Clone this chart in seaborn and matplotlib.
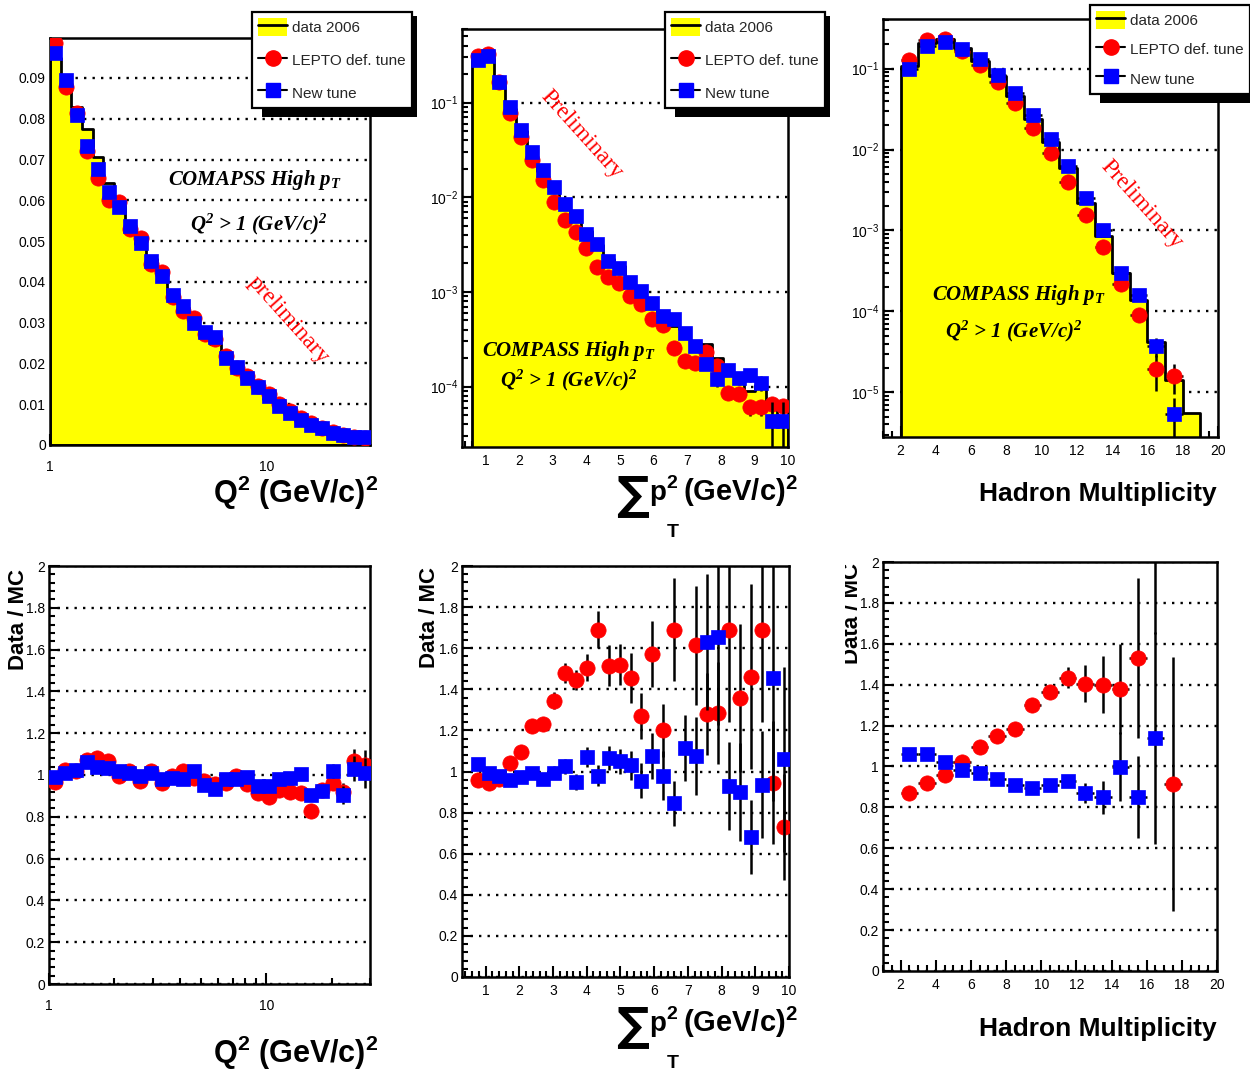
import numpy as np
import matplotlib
matplotlib.use("Agg")
import matplotlib.pyplot as plt
import seaborn as sns
from matplotlib.lines import Line2D
from matplotlib.patches import Patch, Rectangle
from matplotlib.ticker import (MultipleLocator, FixedLocator, FixedFormatter,
                               LogLocator, NullFormatter, FuncFormatter)

# ------------------------------------------------------------------ data
legend_labels = ["data 2006", "LEPTO def. tune", "New tune"]

# Q^2 distribution : 30 logarithmic bins between 1 and 30 (GeV/c)^2
q2_low, q2_high, q2_nbins = 1.0, 30.0, 30
q2_data = [0.0950, 0.0900, 0.0830, 0.0774, 0.0705, 0.0642, 0.0595, 0.0543, 0.0493, 0.0455,
           0.0407, 0.0362, 0.0335, 0.0306, 0.0264, 0.0247, 0.0209, 0.0188, 0.0162, 0.0133,
           0.0112, 0.0094, 0.0077, 0.0061, 0.0044, 0.0038, 0.0030, 0.0023, 0.0021, 0.0019]
q2_lepto = [0.0985, 0.0878, 0.0814, 0.0722, 0.0654, 0.0600, 0.0596, 0.0530, 0.0507, 0.0443,
            0.0424, 0.0364, 0.0328, 0.0311, 0.0272, 0.0259, 0.0218, 0.0189, 0.0170, 0.0145,
            0.0125, 0.0101, 0.0084, 0.0067, 0.0053, 0.0041, 0.0031, 0.0025, 0.0020, 0.0018]
q2_new = [0.0961, 0.0896, 0.0810, 0.0732, 0.0678, 0.0620, 0.0583, 0.0538, 0.0495, 0.0450,
          0.0415, 0.0368, 0.0342, 0.0300, 0.0278, 0.0264, 0.0213, 0.0192, 0.0164, 0.0141,
          0.0119, 0.0096, 0.0078, 0.0061, 0.0049, 0.0041, 0.0029, 0.0025, 0.0020, 0.0019]
q2_ratio_lepto = [0.965, 1.025, 1.02, 1.07, 1.08, 1.065, 0.995, 1.02, 0.97, 1.02,
                  0.96, 0.995, 1.02, 0.985, 0.97, 0.955, 0.96, 0.995, 0.955, 0.915,
                  0.895, 0.93, 0.92, 0.915, 0.83, 0.93, 0.96, 0.92, 1.065, 1.05]
q2_ratio_new = [0.99, 1.01, 1.025, 1.06, 1.04, 1.035, 1.02, 1.01, 0.995, 1.01,
                0.98, 0.985, 0.98, 1.02, 0.95, 0.935, 0.98, 0.98, 0.99, 0.945,
                0.945, 0.98, 0.985, 1.005, 0.905, 0.925, 1.02, 0.905, 1.03, 1.01]
q2_ratio_err = [0.004, 0.004, 0.004, 0.005, 0.005, 0.005, 0.005, 0.006, 0.006, 0.006,
                0.007, 0.007, 0.008, 0.008, 0.009, 0.010, 0.011, 0.012, 0.013, 0.014,
                0.015, 0.017, 0.019, 0.021, 0.024, 0.028, 0.034, 0.042, 0.060, 0.070]

# Sum pT^2 distribution : 29 bins between 0.6 and 10 (GeV/c)^2
pt_low, pt_high, pt_nbins = 0.6, 10.0, 29
pt_data = [0.293, 0.308, 0.161, 0.0854, 0.0497, 0.0299, 0.0189, 0.0128, 0.0087, 0.0061,
           0.0044, 0.0031, 0.00224, 0.00187, 0.00132, 0.00098, 0.00082, 0.00055, 0.00044, 0.00041,
           0.00029, 0.000284, 0.000199, 0.00014, 0.000111, 0.000089, 0.000103, 0.000063, 0.000046]
pt_lepto = [0.31, 0.33, 0.165, 0.077, 0.043, 0.0246, 0.0151, 0.0089, 0.0058, 0.0043,
            0.0029, 0.00183, 0.00144, 0.00123, 0.00090, 0.00075, 0.00052, 0.00045, 0.000258, 0.000187,
            0.000179, 0.00023, 0.000165, 0.000085, 0.000084, 0.000061, 0.000061, 0.000065, 0.000062]
pt_lepto_err = [0, 0, 0, 0, 0, 0, 0, 0, 0, 0, 0, 0, 0, 0, 0, 0, 0, 0, 0, 0,
                0, 0, 0, 1.2e-5, 1.2e-5, 1.2e-5, 1.2e-5, 1.2e-5, 1.2e-5]
pt_new = [0.283, 0.31, 0.164, 0.089, 0.051, 0.030, 0.0196, 0.0129, 0.0085, 0.0064,
          0.0041, 0.0032, 0.0021, 0.00178, 0.00128, 0.00103, 0.00076, 0.00056, 0.00052, 0.00037,
          0.00027, 0.000174, 0.00012, 0.00015, 0.000123, 0.000131, 0.00011, 0.000043, 0.000043]
pt_new_err = [0, 0, 0, 0, 0, 0, 0, 0, 0, 0, 0, 0, 0, 0, 0, 0, 0, 0, 0, 0,
              0, 2e-5, 2e-5, 2e-5, 2e-5, 2e-5, 2e-5, 2.5e-5, 2.5e-5]
pt_ratio_lepto = [0.96, 0.945, 0.965, 1.04, 1.095, 1.22, 1.23, 1.345, 1.48, 1.445,
                  1.505, 1.69, 1.515, 1.52, 1.455, 1.27, 1.57, 1.20, 1.69, 2.2,
                  1.615, 1.28, 1.285, 1.69, 1.36, 1.46, 1.69, 0.945, 0.73]
pt_ratio_lepto_err = [0.02, 0.02, 0.02, 0.025, 0.03, 0.03, 0.035, 0.04, 0.05, 0.05,
                      0.065, 0.09, 0.10, 0.10, 0.12, 0.11, 0.16, 0.13, 0.25, 0.15,
                      0.29, 0.20, 0.25, 0.45, 0.36, 0.45, 0.45, 0.30, 0.26]
pt_ratio_new = [1.035, 0.995, 0.98, 0.96, 0.975, 0.995, 0.965, 0.995, 1.025, 0.95,
                1.07, 0.98, 1.065, 1.05, 1.03, 0.955, 1.075, 0.98, 0.845, 1.115,
                1.075, 1.63, 1.655, 0.93, 0.90, 0.68, 0.935, 1.455, 1.06]
pt_ratio_new_err = [0.01, 0.01, 0.015, 0.015, 0.02, 0.02, 0.025, 0.03, 0.035, 0.04,
                    0.05, 0.05, 0.06, 0.06, 0.07, 0.085, 0.11, 0.12, 0.11, 0.16,
                    0.19, 0.33, 0.43, 0.215, 0.24, 0.18, 0.26, 0.60, 0.45]

# Hadron multiplicity : unit bins from 2 to 19
mult_edges = [2, 3, 4, 5, 6, 7, 8, 9, 10, 11, 12, 13, 14, 15, 16, 17, 18, 19]
mult_data = [0.109, 0.21, 0.23, 0.18, 0.123, 0.080, 0.046, 0.024, 0.0123, 0.0059,
             0.0022, 0.00086, 0.00030, 0.00014, 4.2e-5, 1.4e-5, 5.5e-6]
mult_lepto = [0.127, 0.224, 0.233, 0.167, 0.112, 0.068, 0.0376, 0.0185, 0.0091, 0.0040,
              0.00156, 6.2e-4, 2.2e-4, 9.1e-5, 1.95e-5, 1.6e-5, np.nan]
mult_lepto_err = [0, 0, 0, 0, 0, 0, 0, 0, 0, 0, 0, 0, 0, 0, 9e-6, 6.5e-6, np.nan]
mult_new = [0.100, 0.189, 0.212, 0.175, 0.132, 0.084, 0.050, 0.027, 0.0134, 0.0062,
            0.0025, 1.02e-3, 3.0e-4, 1.6e-4, 3.7e-5, 5.4e-6, np.nan]
mult_new_err = [0, 0, 0, 0, 0, 0, 0, 0, 0, 0, 0, 0, 0, 0, 1e-5, 3e-6, np.nan]
mult_ratio_lepto = [0.87, 0.92, 0.96, 1.02, 1.095, 1.15, 1.185, 1.30, 1.365, 1.435,
                    1.405, 1.40, 1.38, 1.53, 2.15, 0.915, np.nan]
mult_ratio_lepto_err = [0.01, 0.01, 0.01, 0.015, 0.015, 0.02, 0.02, 0.025, 0.03, 0.05,
                        0.09, 0.14, 0.22, 0.39, 0.50, 0.62, np.nan]
mult_ratio_new = [1.06, 1.06, 1.02, 0.985, 0.97, 0.94, 0.91, 0.895, 0.91, 0.93,
                  0.87, 0.85, 1.00, 0.85, 1.14, 2.6, np.nan]
mult_ratio_new_err = [0.01, 0.01, 0.01, 0.01, 0.015, 0.015, 0.02, 0.02, 0.025, 0.03,
                      0.05, 0.08, 0.17, 0.20, 0.52, 0.55, np.nan]

# ------------------------------------------------------------------ style
RED, BLUE, YELLOW = "#ff0000", "#0000ff", "#ffff00"
W, H = 1250, 1082

sns.set_theme(style="ticks")
plt.rcParams.update({
    "font.family": ["Liberation Sans", "DejaVu Sans"],
    "mathtext.default": "regular",
    "axes.edgecolor": "black",
    "axes.linewidth": 1.8,
    "xtick.color": "black",
    "ytick.color": "black",
})

fig = plt.figure(figsize=(W / 100, H / 100), dpi=100)
fig.patch.set_facecolor("white")


def px(x, y):
    return x / W, 1 - y / H


def add_ax(x0, y0, x1, y1):
    return fig.add_axes([x0 / W, 1 - y1 / H, (x1 - x0) / W, (y1 - y0) / H])


def style(ax, xpad):
    for s in ax.spines.values():
        s.set_linewidth(1.8)
        s.set_color("black")
    ax.tick_params(which="both", direction="in", top=False, right=False,
                   labelsize=10, width=1.5, colors="black")
    ax.tick_params(which="major", length=8)
    ax.tick_params(which="minor", length=4)
    ax.tick_params(axis="y", which="both", pad=3)
    ax.tick_params(axis="x", which="both", pad=xpad)
    ax.set_axisbelow(True)
    ax.yaxis.grid(True, which="major", linestyle=(0, (1, 2.6)), color="black", linewidth=1.7)
    ax.yaxis.grid(False, which="minor")
    ax.xaxis.grid(False, which="both")
    ax.set_xlabel("")
    ax.set_ylabel("")
    ax.set_facecolor("white")


def draw_series(ax, x, xlo, xhi, y, yerr, color, marker, ms, z):
    ax.errorbar(x, y, xerr=[xlo, xhi], yerr=yerr, fmt="none", ecolor="black",
                elinewidth=1.8, capsize=0, zorder=z)
    ax.plot(x, y, ls="none", marker=marker, ms=ms, mfc=color, mec=color, mew=0.5,
            zorder=z + 0.5)


def hist(ax, edges, centers, values, log_x=False):
    bins = [float(v) for v in (np.log10(edges) if log_x else edges)]
    kw = dict(log_scale=True) if log_x else {}
    sns.histplot(x=list(centers), weights=list(values), bins=bins,
                 element="step", fill=True, color=YELLOW, edgecolor="black",
                 linewidth=2, alpha=1, ax=ax, zorder=1, **kw)


# bin geometry
q2_edges = np.logspace(np.log10(q2_low), np.log10(q2_high), q2_nbins + 1)
q2_c = 0.5 * (q2_edges[:-1] + q2_edges[1:])
q2_lo, q2_hi = q2_c - q2_edges[:-1], q2_edges[1:] - q2_c
pt_edges = np.linspace(pt_low, pt_high, pt_nbins + 1)
pt_c = 0.5 * (pt_edges[:-1] + pt_edges[1:])
pt_hw = 0.5 * np.diff(pt_edges)
m_edges = np.array(mult_edges, dtype=float)
m_c = 0.5 * (m_edges[:-1] + m_edges[1:])
m_hw = 0.5 * np.diff(m_edges)

# ------------------------------------------------------------------ top-left : Q^2
ax = add_ax(50, 38, 370, 445)
hist(ax, q2_edges, q2_c, q2_data, log_x=True)
draw_series(ax, q2_c, q2_lo, q2_hi, q2_lepto, None, RED, "o", 11, 3)
draw_series(ax, q2_c, q2_lo, q2_hi, q2_new, None, BLUE, "s", 10, 5)
ax.set_xscale("log")
ax.set_xlim(1, 30)
ax.set_ylim(0, 0.0998)
style(ax, 11)
ax.xaxis.set_major_locator(FixedLocator([1, 10]))
ax.xaxis.set_major_formatter(FixedFormatter(["1", "10"]))
ax.xaxis.set_minor_locator(LogLocator(base=10, subs=np.arange(2, 10), numticks=20))
ax.xaxis.set_minor_formatter(NullFormatter())
ax.yaxis.set_major_locator(MultipleLocator(0.01))
ax.yaxis.set_minor_locator(MultipleLocator(0.002))
ax.yaxis.set_major_formatter(FuncFormatter(lambda v, p: "0" if abs(v) < 1e-9 else f"{v:.2f}"))

# ------------------------------------------------------------------ top-middle : sum pT^2
ax = add_ax(462, 29, 788, 447)
hist(ax, pt_edges, pt_c, pt_data)
draw_series(ax, pt_c, pt_hw, pt_hw, pt_lepto, pt_lepto_err, RED, "o", 11, 3)
draw_series(ax, pt_c, pt_hw, pt_hw, pt_new, pt_new_err, BLUE, "s", 10, 5)
ax.set_yscale("log")
ax.set_xlim(0.3, 10)
ax.set_ylim(2.3e-5, 0.6)
style(ax, 5)
ax.xaxis.set_major_locator(MultipleLocator(1))
ax.xaxis.set_minor_locator(MultipleLocator(0.2))
ax.xaxis.set_major_formatter(FuncFormatter(lambda v, p: f"{v:.0f}"))
ax.yaxis.set_major_locator(LogLocator(base=10, numticks=20))
ax.yaxis.set_minor_locator(LogLocator(base=10, subs=np.arange(2, 10), numticks=100))
ax.yaxis.set_minor_formatter(NullFormatter())

# ------------------------------------------------------------------ top-right : multiplicity
ax = add_ax(883, 19, 1218, 437)
hist(ax, m_edges, m_c, mult_data)
draw_series(ax, m_c, m_hw, m_hw, mult_lepto, mult_lepto_err, RED, "o", 11, 3)
draw_series(ax, m_c, m_hw, m_hw, mult_new, mult_new_err, BLUE, "s", 10, 5)
ax.set_yscale("log")
ax.set_xlim(1, 20)
ax.set_ylim(2.8e-6, 0.41)
style(ax, 5)
ax.xaxis.set_major_locator(MultipleLocator(2))
ax.xaxis.set_minor_locator(MultipleLocator(0.5))
ax.xaxis.set_major_formatter(FuncFormatter(lambda v, p: f"{v:.0f}"))
ax.yaxis.set_major_locator(LogLocator(base=10, numticks=20))
ax.yaxis.set_minor_locator(LogLocator(base=10, subs=np.arange(2, 10), numticks=100))
ax.yaxis.set_minor_formatter(NullFormatter())

# ------------------------------------------------------------------ ratio panels
ratio_fmt = FuncFormatter(lambda v, p: f"{v:g}")

ax = add_ax(49, 566, 370, 984)
draw_series(ax, q2_c, q2_lo, q2_hi, q2_ratio_lepto, q2_ratio_err, RED, "o", 11, 3)
draw_series(ax, q2_c, q2_lo, q2_hi, q2_ratio_new, q2_ratio_err, BLUE, "s", 10, 5)
ax.set_xscale("log")
ax.set_xlim(1, 30)
ax.set_ylim(0, 2)
style(ax, 11)
ax.xaxis.set_major_locator(FixedLocator([1, 10]))
ax.xaxis.set_major_formatter(FixedFormatter(["1", "10"]))
ax.xaxis.set_minor_locator(LogLocator(base=10, subs=np.arange(2, 10), numticks=20))
ax.xaxis.set_minor_formatter(NullFormatter())
ax.yaxis.set_major_locator(MultipleLocator(0.2))
ax.yaxis.set_minor_locator(MultipleLocator(0.04))
ax.yaxis.set_major_formatter(ratio_fmt)

ax = add_ax(462, 566, 789, 977)
draw_series(ax, pt_c, pt_hw, pt_hw, pt_ratio_lepto, pt_ratio_lepto_err, RED, "o", 11, 3)
draw_series(ax, pt_c, pt_hw, pt_hw, pt_ratio_new, pt_ratio_new_err, BLUE, "s", 10, 5)
ax.set_xlim(0.3, 10)
ax.set_ylim(0, 2)
style(ax, 5)
ax.xaxis.set_major_locator(MultipleLocator(1))
ax.xaxis.set_minor_locator(MultipleLocator(0.2))
ax.xaxis.set_major_formatter(FuncFormatter(lambda v, p: f"{v:.0f}"))
ax.yaxis.set_major_locator(MultipleLocator(0.2))
ax.yaxis.set_minor_locator(MultipleLocator(0.04))
ax.yaxis.set_major_formatter(ratio_fmt)

ax = add_ax(883, 562, 1217, 971)
draw_series(ax, m_c, m_hw, m_hw, mult_ratio_lepto, mult_ratio_lepto_err, RED, "o", 11, 3)
draw_series(ax, m_c, m_hw, m_hw, mult_ratio_new, mult_ratio_new_err, BLUE, "s", 10, 5)
ax.set_xlim(1, 20)
ax.set_ylim(0, 2)
style(ax, 5)
ax.xaxis.set_major_locator(MultipleLocator(2))
ax.xaxis.set_minor_locator(MultipleLocator(0.5))
ax.xaxis.set_major_formatter(FuncFormatter(lambda v, p: f"{v:.0f}"))
ax.yaxis.set_major_locator(MultipleLocator(0.2))
ax.yaxis.set_minor_locator(MultipleLocator(0.04))
ax.yaxis.set_major_formatter(ratio_fmt)

# ------------------------------------------------------------------ axis titles
bold = dict(fontweight="bold", color="black")
for dy in (0, 560):
    fig.text(*px(378, 503 + dy), r"Q$^{2}$ (GeV/c)$^{2}$", ha="right", va="baseline",
             fontsize=22, **bold)
for yy in (494, 1029):
    fig.text(*px(1217, yy), "Hadron Multiplicity", ha="right", va="center", fontsize=19, **bold)
for dy in (0, 531):
    fig.text(*px(632, 496 + dy), "\u2211", ha="center", va="center", fontsize=33,
             family=["DejaVu Sans"], **bold)
    fig.text(*px(649, 500 + dy), "p", ha="left", va="baseline", fontsize=20, **bold)
    fig.text(*px(666, 488 + dy), "2", ha="left", va="baseline", fontsize=14, **bold)
    fig.text(*px(667, 537 + dy), "T", ha="left", va="baseline", fontsize=14, **bold)
    fig.text(*px(683, 501 + dy), r"(GeV/c)$^{2}$", ha="left", va="baseline", fontsize=21, **bold)

fig.text(*px(19, 619), "Data / MC", rotation=90, ha="center", va="center", fontsize=16, **bold)
fig.text(*px(430, 618), "Data / MC", rotation=90, ha="center", va="center", fontsize=16, **bold)
t = fig.text(*px(852, 613), "Data / MC", rotation=90, ha="center", va="center", fontsize=16, **bold)
t.set_clip_box(matplotlib.transforms.TransformedBbox(
    matplotlib.transforms.Bbox([[845 / W, 0], [1, 1]]), fig.transFigure))
t.set_clip_on(True)

# ------------------------------------------------------------------ annotations
serif = dict(family=["Liberation Serif", "DejaVu Serif"], style="italic", fontweight="bold",
             color="black", fontsize=15)
fig.text(*px(168, 185), r"COMAPSS High p$_{T}$", ha="left", va="baseline", **serif)
fig.text(*px(190, 230), r"Q$^{2}$ > 1 (GeV/c)$^{2}$", ha="left", va="baseline", **serif)
fig.text(*px(482, 356), r"COMPASS High p$_{T}$", ha="left", va="baseline", **serif)
fig.text(*px(500, 386), r"Q$^{2}$ > 1 (GeV/c)$^{2}$", ha="left", va="baseline", **serif)
fig.text(*px(932, 300), r"COMPASS High p$_{T}$", ha="left", va="baseline", **serif)
fig.text(*px(945, 337), r"Q$^{2}$ > 1 (GeV/c)$^{2}$", ha="left", va="baseline", **serif)

prelim = dict(family=["Liberation Serif", "DejaVu Serif"], color=RED, fontsize=17,
              rotation=-48, rotation_mode="anchor", ha="center", va="center")
fig.text(*px(288, 320), "preliminary", **prelim)
fig.text(*px(582, 134), "Preliminary", **prelim)
fig.text(*px(1142, 204), "Preliminary", **prelim)

# ------------------------------------------------------------------ legends
def legend_handles():
    return [(Patch(facecolor=YELLOW, edgecolor="none"), Line2D([], [], color="black", lw=2)),
            Line2D([], [], color="black", lw=1.5, marker="o", ms=11, mfc=RED, mec=RED),
            Line2D([], [], color="black", lw=1.5, marker="s", ms=10, mfc=BLUE, mec=BLUE)]


legends = []
for (x0, y0, sp) in [(252, 12, 0.95), (665, 12, 0.95), (1090, 5, 0.72)]:
    leg = fig.legend(legend_handles(), legend_labels, loc="upper left",
                     bbox_to_anchor=px(x0, y0), bbox_transform=fig.transFigure,
                     frameon=True, fancybox=False, edgecolor="black", framealpha=1,
                     borderaxespad=0, fontsize=11, labelspacing=sp, handlelength=1.9,
                     handleheight=1.45, handletextpad=0.35, borderpad=0.4)
    leg.get_frame().set_linewidth(1.6)
    leg.set_zorder(20)
    legends.append(leg)

fig.canvas.draw()
inv = fig.transFigure.inverted()
for leg in legends:
    bb = leg.get_window_extent(fig.canvas.get_renderer())
    (a0, b0) = inv.transform((bb.x0 + 10, bb.y0 - 9))
    (a1, b1) = inv.transform((bb.x1 + 5, bb.y1 - 4))
    fig.add_artist(Rectangle((a0, b0), a1 - a0, b1 - b0, transform=fig.transFigure,
                             facecolor="black", edgecolor="none", zorder=19))

fig.savefig("out.png", dpi=100, facecolor="white")
